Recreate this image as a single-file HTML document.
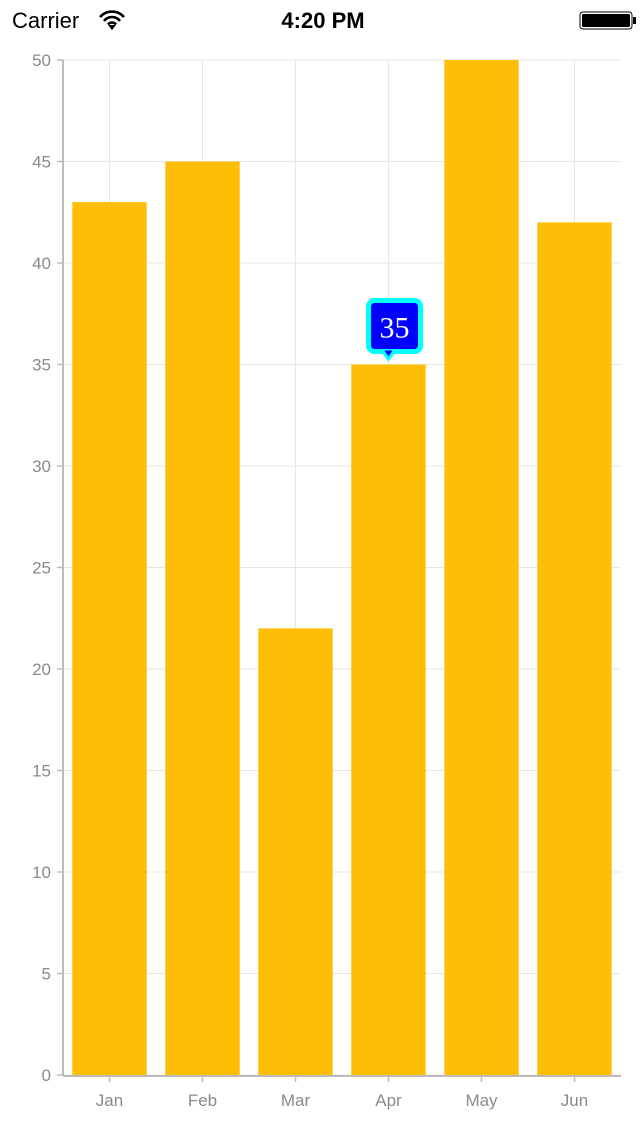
<!DOCTYPE html>
<html><head><meta charset="utf-8"><style>
body{margin:0;width:640px;height:1136px;background:#fff;overflow:hidden;font-family:"Liberation Sans",sans-serif}
</style></head><body>
<svg width="640" height="1136" xmlns="http://www.w3.org/2000/svg">
<g>
<text x="12" y="28" font-size="22" fill="#000">Carrier</text>
<g fill="none" stroke="#000" stroke-width="2.6">
<path d="M100 17 A16 16 0 0 1 124 17"/><path d="M104 21 A10 10 0 0 1 120 21"/><path d="M108 24.5 A5 5 0 0 1 116 24.5"/>
</g>
<path d="M108 25 L112 30 L116 25 Z" fill="#000"/>
<text x="323" y="28" font-size="22" font-weight="bold" text-anchor="middle" fill="#000">4:20 PM</text>
<g>
<rect x="580" y="12" width="52" height="17" rx="3" fill="#fff" stroke="#000" stroke-width="1"/>
<rect x="582" y="14" width="48" height="13" rx="1.5" fill="#000"/>
<rect x="633" y="17" width="3" height="7" fill="#000"/>
</g>
</g>
<g id="grid"></g>
<g id="bars"></g>
<g id="axes"></g>
<g id="tip"></g>
<script>
const categories=["Jan","Feb","Mar","Apr","May","Jun"];
const values=[43,45,22,35,50,42];
const yTicks=[0,5,10,15,20,25,30,35,40,45,50];
const tooltipIndex=3;
const NS="http://www.w3.org/2000/svg";
const L=63,R=621,T=60,B=1075,yMax=50;
const bw=(R-L)/categories.length;
const y=v=>B-(B-T)*v/yMax;
const x=i=>L+bw*(i+0.5);
function mk(p,tag,a){const e=document.createElementNS(NS,tag);for(const k in a)e.setAttribute(k,a[k]);p.appendChild(e);return e;}
const g=document.getElementById('grid'),b=document.getElementById('bars'),ax=document.getElementById('axes'),tp=document.getElementById('tip');
yTicks.forEach(t=>{
 const l=mk(g,'line',{x1:L,x2:R,y1:y(t),y2:y(t),stroke:'#e6e6e6','stroke-width':1});
 
 
 const k=mk(ax,'line',{x1:L-6,x2:L,y1:y(t),y2:y(t),stroke:'#bbb','stroke-width':1.5});
 
 
 const tx=mk(ax,'text',{x:L-12,y:y(t)+6,'font-size':17,fill:'#8a8a8a','text-anchor':'end'});
 tx.textContent=t;
 
 
});
categories.forEach((c,i)=>{
 const l=mk(g,'line',{x1:x(i),x2:x(i),y1:T,y2:B,stroke:'#e6e6e6','stroke-width':1});
 
 
 const r=mk(b,'rect',{x:x(i)-bw*0.4,y:y(values[i]),width:bw*0.8,height:B-y(values[i]),fill:'#ffbe06'});
 
 
 const k=mk(ax,'line',{x1:x(i),x2:x(i),y1:B,y2:B+7,stroke:'#bbb','stroke-width':1.5});
 
 
 const tx=mk(ax,'text',{x:x(i),y:B+31,'font-size':17,fill:'#8a8a8a','text-anchor':'middle'});
 tx.textContent=c;
 
 
});
const ya=mk(ax,'line',{x1:L,x2:L,y1:T,y2:B+1,stroke:'#bbb','stroke-width':2});


const xa=mk(ax,'line',{x1:L,x2:R,y1:B+1,y2:B+1,stroke:'#bbb','stroke-width':2});


const cx=x(tooltipIndex),by=y(values[tooltipIndex]);
const box=mk(tp,'rect',{x:cx-20,y:by-64,width:52,height:51,rx:6,fill:'#0000ff',stroke:'#00ffff','stroke-width':5});


const ptr=mk(tp,'path',{d:`M${cx-6} ${by-11} L${cx} ${by-3} L${cx+6} ${by-11} Z`,fill:'#00ffff'});


const ptr2=mk(tp,'path',{d:`M${cx-4} ${by-14} L${cx} ${by-8} L${cx+4} ${by-14} Z`,fill:'#0000ff'});


const tt=mk(tp,'text',{x:cx+6,y:by-27,'font-size':30,fill:'#fff','text-anchor':'middle','font-family':'Liberation Serif, serif'});
tt.textContent=values[tooltipIndex];


</script>
</svg>
</body></html>
